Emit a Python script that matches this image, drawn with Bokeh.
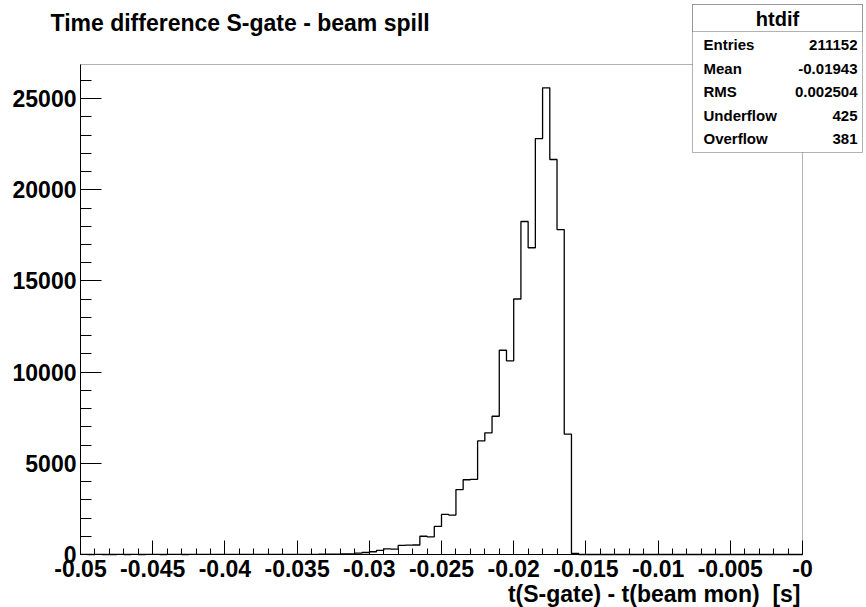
import numpy as np
from bokeh.plotting import figure
from bokeh.models import Range1d, FixedTicker, Label, BoxAnnotation
from bokeh.embed import file_html
from bokeh.resources import INLINE

# ---------------- data ----------------
title_text = "Time difference S-gate - beam spill"
x_title = "t(S-gate) - t(beam mon)\u00a0 [s]"
hist_name = "htdif"
bin_low = -0.05
bin_high = 0.0
counts = [
    2, 1, 2, 1, 1, 2, 1, 2, 1, 2,
    2, 1, 2, 2, 1, 2, 2, 3, 2, 2,
    3, 2, 3, 3, 4, 3, 4, 5,
    5, 6, 8, 9, 12, 15, 20, 25,
    30, 35, 70, 110, 150, 230, 310, 300, 500, 510, 520, 1000, 970, 1540,
    2200, 2160, 3560, 4100, 4120, 6230, 6670, 7580, 11200, 10620,
    14010, 18260, 16820, 22810, 25590, 21660, 17820, 6600, 60,
    0, 0, 0, 0, 0, 0, 0, 0, 0, 0,
    0, 0, 0, 0, 0, 0, 0, 0, 0, 0,
    0, 0, 0, 0, 0, 0, 0, 0, 0, 0, 0,
]
x_tick_values = [-0.05, -0.045, -0.04, -0.035, -0.03, -0.025, -0.02, -0.015, -0.01, -0.005, 0.0]
x_tick_labels = ["-0.05", "-0.045", "-0.04", "-0.035", "-0.03", "-0.025", "-0.02", "-0.015", "-0.01", "-0.005", "-0"]
y_tick_values = [0, 5000, 10000, 15000, 20000, 25000]
y_tick_labels = ["0", "5000", "10000", "15000", "20000", "25000"]
stat_names = ["Entries", "Mean", "RMS", "Underflow", "Overflow"]
stat_values = ["211152", "-0.01943", "0.002504", "425", "381"]

# ---------------- layout ----------------
W, H = 866, 607
FL, FR, FT, FB = 80, 802, 64, 554  # histogram frame edges in canvas px
FONT = "Liberation Sans"

counts_arr = np.array(counts, dtype=float)
nb = len(counts)
edges = np.linspace(bin_low, bin_high, nb + 1)
ymax = counts_arr.max() * 1.05

# the bokeh frame covers the whole canvas; ranges chosen so the histogram
# area lands at FL..FR / FT..FB
xpp = (bin_high - bin_low) / (FR - FL)
ypp = ymax / (FB - FT)
x_range = Range1d(bin_low - FL * xpp, bin_high + (W - FR) * xpp)
y_range = Range1d(-(H - FB) * ypp, ymax + FT * ypp)

p = figure(width=W, height=H, output_backend="svg", toolbar_location=None,
           x_range=x_range, y_range=y_range,
           min_border_left=0, min_border_right=0,
           min_border_top=0, min_border_bottom=0)
p.title.visible = False
p.background_fill_color = "white"
p.border_fill_color = "white"
p.outline_line_color = None
p.grid.visible = False

# histogram frame
p.add_layout(BoxAnnotation(left=bin_low, right=bin_high, bottom=0, top=ymax,
                           fill_color=None, line_color="black", line_width=1,
                           level="underlay"))

p.step(x=edges, y=np.append(counts_arr, counts_arr[-1]), mode="after",
       line_color="black", line_width=1.3)

# axes
xminor = list(np.round(np.arange(bin_low, bin_high + 1e-9, 0.001), 4))
yminor = list(range(0, int(ymax) + 1, 1000))
p.xaxis.ticker = FixedTicker(ticks=x_tick_values, minor_ticks=xminor)
p.yaxis.ticker = FixedTicker(ticks=y_tick_values, minor_ticks=yminor)
p.xaxis.major_label_overrides = {v: l for v, l in zip(x_tick_values, x_tick_labels)}
p.yaxis.major_label_overrides = {v: l for v, l in zip(y_tick_values, y_tick_labels)}
p.xaxis.fixed_location = 0
p.yaxis.fixed_location = bin_low
p.xaxis.bounds = (bin_low, bin_high)
p.yaxis.bounds = (0, ymax)

for ax in (p.xaxis, p.yaxis):
    ax.axis_line_color = "black"
    ax.axis_line_width = 1
    ax.major_tick_line_color = "black"
    ax.minor_tick_line_color = "black"
    ax.major_tick_out = 0
    ax.minor_tick_out = 0
    ax.major_label_text_font = FONT
    ax.major_label_text_font_style = "bold"
    ax.major_label_text_font_size = "23px"
    ax.major_label_text_color = "black"

p.xaxis.major_tick_in = 14
p.xaxis.minor_tick_in = 6
p.xaxis.major_label_standoff = 5
p.yaxis.major_tick_in = 21
p.yaxis.minor_tick_in = 11
p.yaxis.major_label_standoff = 4


def sx(cx):
    return cx


def sy(cy):
    return H - cy


def add_label(text, cx, cy, align="left", size="23px"):
    p.add_layout(Label(x=sx(cx), y=sy(cy), x_units="screen", y_units="screen",
                       text=text, text_align=align, text_baseline="middle",
                       text_font=FONT, text_font_style="bold",
                       text_font_size=size, text_color="black"))


# title and axis title
add_label(title_text, 50, 22)
add_label(x_title, 800, 593, align="right")

# stats box
BL, BR, BT, BB = 692, 862, 4, 152
box_kw = dict(left_units="screen", right_units="screen",
              top_units="screen", bottom_units="screen",
              fill_color="white", fill_alpha=1.0,
              line_color="black", line_width=1, level="annotation")
p.add_layout(BoxAnnotation(left=sx(BL), right=sx(BR), top=sy(BT), bottom=sy(BB), **box_kw))
p.add_layout(BoxAnnotation(left=sx(BL), right=sx(BR), top=sy(BT), bottom=sy(31), **box_kw))
add_label(hist_name, (BL + BR) / 2, 18, align="center", size="20px")
row_y = [44, 68, 91, 115, 138]
for name, val, ry in zip(stat_names, stat_values, row_y):
    add_label(name, 703, ry, size="15px")
    add_label(val, 857, ry, align="right", size="15px")

open("out.html", "w").write(file_html(p, INLINE))
